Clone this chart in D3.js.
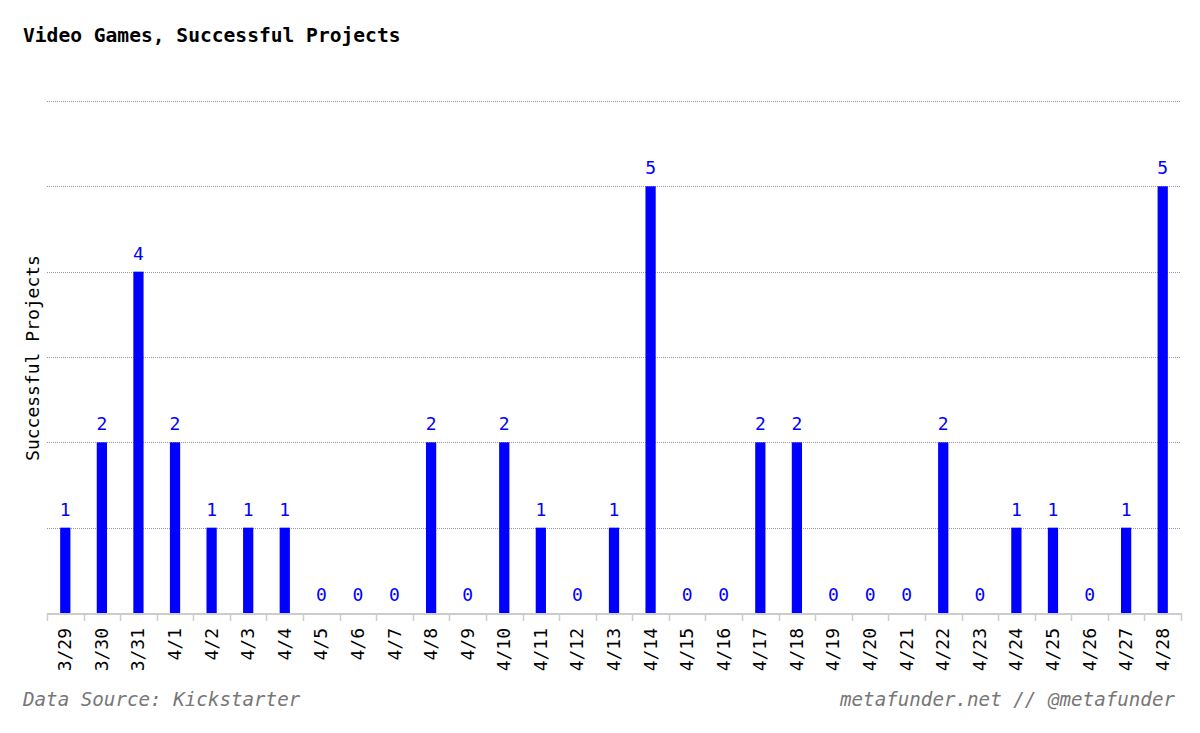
<!DOCTYPE html>
<html><head><meta charset="utf-8">
<script src="https://cdn.jsdelivr.net/npm/d3@7"></script>
<style>
body{margin:0;background:#fff;}
text{font-family:"DejaVu Sans Mono","Liberation Mono",monospace;}
</style></head>
<body><svg id="c" width="1200" height="733"></svg>
<script>
const dates = ["3/29","3/30","3/31","4/1","4/2","4/3","4/4","4/5","4/6","4/7","4/8","4/9","4/10","4/11","4/12","4/13","4/14","4/15","4/16","4/17","4/18","4/19","4/20","4/21","4/22","4/23","4/24","4/25","4/26","4/27","4/28"];
const values = [1,2,4,2,1,1,1,0,0,0,2,0,2,1,0,1,5,0,0,2,2,0,0,0,2,0,1,1,0,1,5];
const gridTicks = [1,2,3,4,5,6];

const svg = d3.select("#c");
const x = d3.scaleBand().domain(dates).range([47,1181]).paddingInner(0.72).paddingOuter(0.36);
const y = d3.scaleLinear().domain([0,6]).range([613,101]);

svg.append("text").attr("x",23).attr("y",42).attr("font-size",19.6).attr("font-weight","bold").attr("fill","#000")
  .text("Video Games, Successful Projects");

// gridlines
svg.append("g").selectAll("line").data(gridTicks).join("line")
  .attr("x1",47).attr("x2",1181).attr("y1",d=>Math.round(y(d))+0.5).attr("y2",d=>Math.round(y(d))+0.5)
  .attr("stroke","#999").attr("stroke-width",1).attr("stroke-dasharray","1,1");

// bars
svg.append("g").selectAll("rect").data(values).join("rect")
  .attr("x",(d,i)=>x(dates[i])).attr("width",x.bandwidth())
  .attr("y",d=>y(d)).attr("height",d=>y(0)-y(d)).attr("fill","#0000ff");

// value labels
svg.append("g").selectAll("text").data(values).join("text")
  .attr("x",(d,i)=>x(dates[i])+x.bandwidth()/2).attr("y",d=>y(d)-12)
  .attr("text-anchor","middle").attr("font-size",18).attr("fill","#0000ff").text(d=>d);

// x axis
const step = (1181-47)/dates.length;
const ax = svg.append("g");
ax.append("line").attr("x1",47).attr("x2",1181).attr("y1",614).attr("y2",614).attr("stroke","#ccc").attr("stroke-width",2);
ax.selectAll("line.t").data(d3.range(dates.length+1)).join("line").attr("class","t")
  .attr("x1",i=>Math.round(47+i*step)+0.5).attr("x2",i=>Math.round(47+i*step)+0.5)
  .attr("y1",613).attr("y2",621).attr("stroke","#ccc").attr("stroke-width",1.5);
ax.selectAll("text").data(dates).join("text")
  .attr("transform",d=>`translate(${x(d)+x.bandwidth()/2+6},628) rotate(-90)`)
  .attr("text-anchor","end").attr("font-size",18).attr("fill","#000").text(d=>d);

// y label
svg.append("text").attr("transform","translate(39,358) rotate(-90)").attr("text-anchor","middle")
  .attr("font-size",18).attr("fill","#000").text("Successful Projects");

// footer
svg.append("text").attr("x",23).attr("y",706).attr("font-size",19.2).attr("font-style","italic").attr("fill","#777")
  .text("Data Source: Kickstarter");
svg.append("text").attr("x",1175).attr("y",706).attr("text-anchor","end").attr("font-size",19.2).attr("font-style","italic").attr("fill","#777")
  .text("metafunder.net // @metafunder");
</script></body></html>
